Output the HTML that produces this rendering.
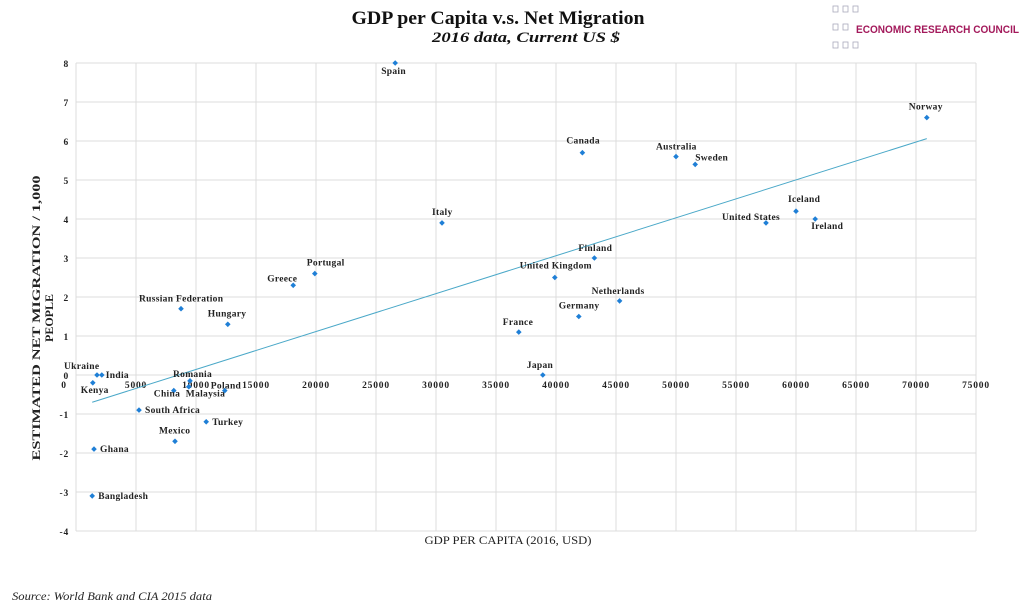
<!DOCTYPE html>
<html><head><meta charset="utf-8"><style>
body{margin:0;background:#fff;width:1024px;height:610px;overflow:hidden}
svg text{font-family:"Liberation Serif","DejaVu Serif",serif}
.lbl{font-size:9.5px;font-weight:bold;fill:#222;letter-spacing:0.3px}
.tick{font-size:9.5px;font-weight:bold;fill:#222;letter-spacing:0.8px}
</style></head><body>
<svg id="c" width="1024" height="610">
<text x="498" y="24" text-anchor="middle" font-size="19" font-weight="bold" fill="#111" textLength="293" lengthAdjust="spacingAndGlyphs">GDP per Capita v.s. Net Migration</text>
<text x="526" y="42" text-anchor="middle" font-size="15" font-weight="bold" font-style="italic" fill="#111" textLength="188" lengthAdjust="spacingAndGlyphs">2016 data, Current US $</text>
<g>
<g fill="none" stroke="#aab" stroke-width="0.8">
<rect x="833" y="6" width="5" height="6"/><rect x="843" y="6" width="5" height="6"/><rect x="853" y="6" width="5" height="6"/>
<rect x="833" y="24" width="5" height="6"/><rect x="843" y="24" width="5" height="6"/>
<rect x="833" y="42" width="5" height="6"/><rect x="843" y="42" width="5" height="6"/><rect x="853" y="42" width="5" height="6"/>
</g>
<text x="856" y="33" font-size="11" font-weight="bold" fill="#a3195b" textLength="163" lengthAdjust="spacingAndGlyphs" style="font-family:'Liberation Sans',sans-serif">ECONOMIC RESEARCH COUNCIL</text>
</g>
<g id="grid"></g>
<g id="marks"></g>
<text transform="translate(40,318) rotate(-90)" text-anchor="middle" font-size="12" font-weight="bold" fill="#222" textLength="285" lengthAdjust="spacingAndGlyphs">ESTIMATED NET MIGRATION / 1,000</text>
<text transform="translate(53,318) rotate(-90)" text-anchor="middle" font-size="12" font-weight="bold" fill="#222">PEOPLE</text>
<text x="508" y="544" text-anchor="middle" font-size="12" fill="#222" textLength="167" lengthAdjust="spacingAndGlyphs">GDP PER CAPITA (2016, USD)</text>
<text x="12" y="600" font-size="12" font-style="italic" fill="#222" textLength="200" lengthAdjust="spacingAndGlyphs">Source: World Bank and CIA 2015 data</text>
</svg>
<script>
const countries=["Ukraine","India","Kenya","Romania","China","Malaysia","Poland","South Africa","Turkey","Mexico","Ghana","Bangladesh","Russian Federation","Hungary","Greece","Portugal","Spain","Italy","France","Japan","United Kingdom","Germany","Canada","Finland","Netherlands","Australia","Sweden","United States","Iceland","Ireland","Norway"];
const gdp=[1750,2150,1400,9500,8150,9400,12400,5250,10850,8250,1500,1350,8750,12650,18100,19900,26600,30500,36900,38900,39900,41900,42200,43200,45300,50000,51600,57500,60000,61600,70900];
const migration=[0,0,-0.2,-0.15,-0.4,-0.3,-0.4,-0.9,-1.2,-1.7,-1.9,-3.1,1.7,1.3,2.3,2.6,8,3.9,1.1,0,2.5,1.5,5.7,3.0,1.9,5.6,5.4,3.9,4.2,4.0,6.6];
const xTicks=[0,5000,10000,15000,20000,25000,30000,35000,40000,45000,50000,55000,60000,65000,70000,75000];
const yTicks=[-4,-3,-2,-1,0,1,2,3,4,5,6,7,8];
const trendSlope=9.72e-5, trendIntercept=-0.83, trendRange=[1350,70900];
// label offsets (layout only)
const off={"Ukraine":[-33,-6],"India":[4,3],"Kenya":[-12,10],"Romania":[-17,-4],"China":[-20,6],"Malaysia":[-3,10],"Poland":[-14,-2],"South Africa":[6,3],"Turkey":[6,3],"Mexico":[-16,-8],"Ghana":[6,3],"Bangladesh":[6,3],"Russian Federation":[-42,-7],"Hungary":[-20,-8],"Greece":[-26,-4],"Portugal":[-8,-8],"Spain":[-14,11],"Italy":[-10,-8],"France":[-16,-7],"Japan":[-16,-7],"United Kingdom":[-35,-9],"Germany":[-20,-8],"Canada":[-16,-9],"Finland":[-16,-7],"Netherlands":[-28,-7],"Australia":[-20,-7],"Sweden":[0,-4],"United States":[-44,-3],"Iceland":[-8,-9],"Ireland":[-4,10],"Norway":[-18,-8]};
const X=v=>76+v/75000*900, Y=v=>375-v*39;
const NS="http://www.w3.org/2000/svg";
const grid=document.getElementById('grid'), marks=document.getElementById('marks');
function mk(tag,attrs,parent){const e=document.createElementNS(NS,tag);for(const k in attrs)e.setAttribute(k,attrs[k]);parent.appendChild(e);return e;}
xTicks.forEach(t=>{
 const l=mk('line',{x1:X(t),x2:X(t),y1:Y(8),y2:Y(-4),stroke:'#dcdcdc','stroke-width':1},grid);
 
 
 const tx=mk('text',{x:X(t)+(t===0?-12:0),y:Y(0)+13,'text-anchor':'middle',class:'tick'},grid);
 tx.textContent=t;
 
 
});
yTicks.forEach(t=>{
 const l=mk('line',{x1:X(0),x2:X(75000),y1:Y(t),y2:Y(t),stroke:'#dcdcdc','stroke-width':1},grid);
 
 
 const tx=mk('text',{x:69,y:Y(t)+4,'text-anchor':'end',class:'tick'},grid);
 tx.textContent=t;
 
 
});
const tl=mk('line',{x1:X(trendRange[0]),y1:Y(trendSlope*trendRange[0]+trendIntercept),x2:X(trendRange[1]),y2:Y(trendSlope*trendRange[1]+trendIntercept),stroke:'#4aa8c8','stroke-width':1},marks);


countries.forEach((c,i)=>{
 const x=X(gdp[i]),y=Y(migration[i]);
 const p=mk('path',{d:`M${x} ${y-2.8}L${x+2.8} ${y}L${x} ${y+2.8}L${x-2.8} ${y}Z`,fill:'#1f7fd6'},marks);
 
 
 const o=off[c]||[4,3];
 const t=mk('text',{x:x+o[0],y:y+o[1],class:'lbl'},marks);
 t.textContent=c;
 
 
});
</script>
</body></html>
